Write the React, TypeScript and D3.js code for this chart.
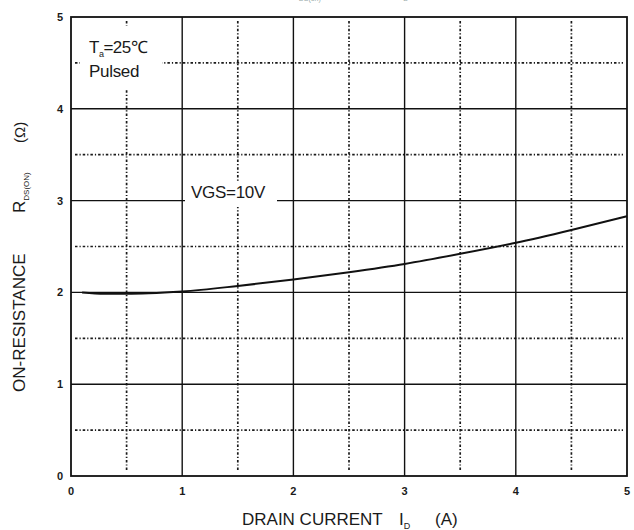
import { useRef, useEffect } from 'react'
import * as d3 from 'd3'

// VGS = 10V curve
const currentA = [0.1, 0.3, 0.5, 0.7, 1, 1.5, 2, 2.5, 3, 3.5, 4, 4.5, 5]
const rdsOn = [2.0, 1.985, 1.985, 1.99, 2.01, 2.07, 2.14, 2.22, 2.31, 2.42, 2.54, 2.68, 2.83]
const majorTicks = [0, 1, 2, 3, 4, 5]
const minorTicks = [0.5, 1.5, 2.5, 3.5, 4.5]

function App() {
  const ref = useRef<SVGSVGElement>(null)

  useEffect(() => {
    const svg = d3.select(ref.current)
    svg.selectAll('*').remove()
    const left = 71, right = 627, top = 17, bottom = 476
    const x = d3.scaleLinear().domain([0, 5]).range([left, right])
    const y = d3.scaleLinear().domain([0, 5]).range([bottom, top])
    const font = '"Liberation Sans", Arial, sans-serif'
    const ink = '#1a1a1a'

    // dotted half-grid
    const dots = svg.append('g').attr('stroke', '#1a1a1a').attr('stroke-width', 1.7)
      .attr('stroke-dasharray', '2.5,2,1.2,2')
    minorTicks.forEach(v => {
      dots.append('line').attr('x1', x(v)).attr('x2', x(v)).attr('y1', y(5) + 4).attr('y2', y(0) - 4)
      dots.append('line').attr('x1', x(0) + 4).attr('x2', x(5) - 4).attr('y1', y(v)).attr('y2', y(v))
    })

    // solid grid
    const solid = svg.append('g').attr('stroke', '#111').attr('stroke-width', 1.4)
    majorTicks.slice(1, -1).forEach(v => {
      solid.append('line').attr('x1', x(v)).attr('x2', x(v)).attr('y1', y(0)).attr('y2', y(5))
      solid.append('line').attr('x1', x(0)).attr('x2', x(5)).attr('y1', y(v)).attr('y2', y(v))
    })
    svg.append('rect').attr('x', x(0)).attr('y', y(5)).attr('width', x(5) - x(0)).attr('height', y(0) - y(5))
      .attr('fill', 'none').attr('stroke', '#111').attr('stroke-width', 1.8)

    // label boxes
    svg.append('rect').attr('x', 80).attr('y', 26).attr('width', 82).attr('height', 63).attr('fill', '#fff')
    svg.append('rect').attr('x', 185).attr('y', 181).attr('width', 92).attr('height', 26).attr('fill', '#fff')

    // curve
    const line = d3.line<number>().x((d, i) => x(currentA[i])).y(d => y(d)).curve(d3.curveMonotoneX)
    svg.append('path').attr('d', line(rdsOn)).attr('fill', 'none').attr('stroke', '#111').attr('stroke-width', 2)

    // tick labels
    const tl = svg.append('g').attr('font-family', font).attr('font-size', 11).attr('font-weight', 'bold').attr('fill', ink)
    majorTicks.forEach(v => {
      tl.append('text').attr('x', x(v)).attr('y', 495).attr('text-anchor', 'middle').text(v)
      tl.append('text').attr('x', 63).attr('y', y(v) + 4).attr('text-anchor', 'end').text(v)
    })

    // annotations
    const ann = svg.append('g').attr('font-family', font).attr('font-size', 17).attr('fill', ink)
    const t = ann.append('text').attr('x', 89).attr('y', 53).attr('letter-spacing', -0.5)
    t.append('tspan').text('T')
    t.append('tspan').attr('font-size', 9).attr('dy', 4).text('a')
    t.append('tspan').attr('dy', -4).text('=25℃')
    ann.append('text').attr('x', 89).attr('y', 77).attr('letter-spacing', -0.3).text('Pulsed')
    ann.append('text').attr('x', 191).attr('y', 198).attr('letter-spacing', -0.3).text('VGS=10V')

    // x label
    const xl = svg.append('text').attr('font-family', font).attr('font-size', 17).attr('fill', ink)
      .attr('x', 242).attr('y', 525)
    xl.append('tspan').text('DRAIN CURRENT')
    xl.append('tspan').attr('x', 399).text('I')
    xl.append('tspan').attr('font-size', 9).attr('dy', 4).text('D')
    xl.append('tspan').attr('x', 435).attr('dy', -4).text('(A)')

    // y label
    const yl = svg.append('text').attr('font-family', font).attr('font-size', 17).attr('fill', ink)
      .attr('transform', 'translate(25,392) rotate(-90)')
    yl.append('tspan').attr('x', 0).text('ON-RESISTANCE')
    yl.append('tspan').attr('x', 179).text('R')
    yl.append('tspan').attr('font-size', 8).attr('dy', 4).text('DS(ON)')
    yl.append('tspan').attr('x', 249).attr('dy', -4).attr('font-size', 15).text('(Ω)')

    // clipped title remnant at top
    const ttl = svg.append('text').attr('font-family', font).attr('font-size', 12).attr('fill', '#9aa')
      .attr('x', 290).attr('y', -5)
    ttl.append('tspan').text('R')
    ttl.append('tspan').attr('font-size', 7).attr('dy', 6).text('DS(on)')
    ttl.append('tspan').attr('dy', -6).attr('x', 400).text('I')
    ttl.append('tspan').attr('font-size', 7).attr('dy', 6).text('D')
  }, [])

  return (
    <svg ref={ref} width={634} height={530}
      style={{ position: 'absolute', left: 0, top: 0, background: '#fff' }} />
  )
}

export default App
